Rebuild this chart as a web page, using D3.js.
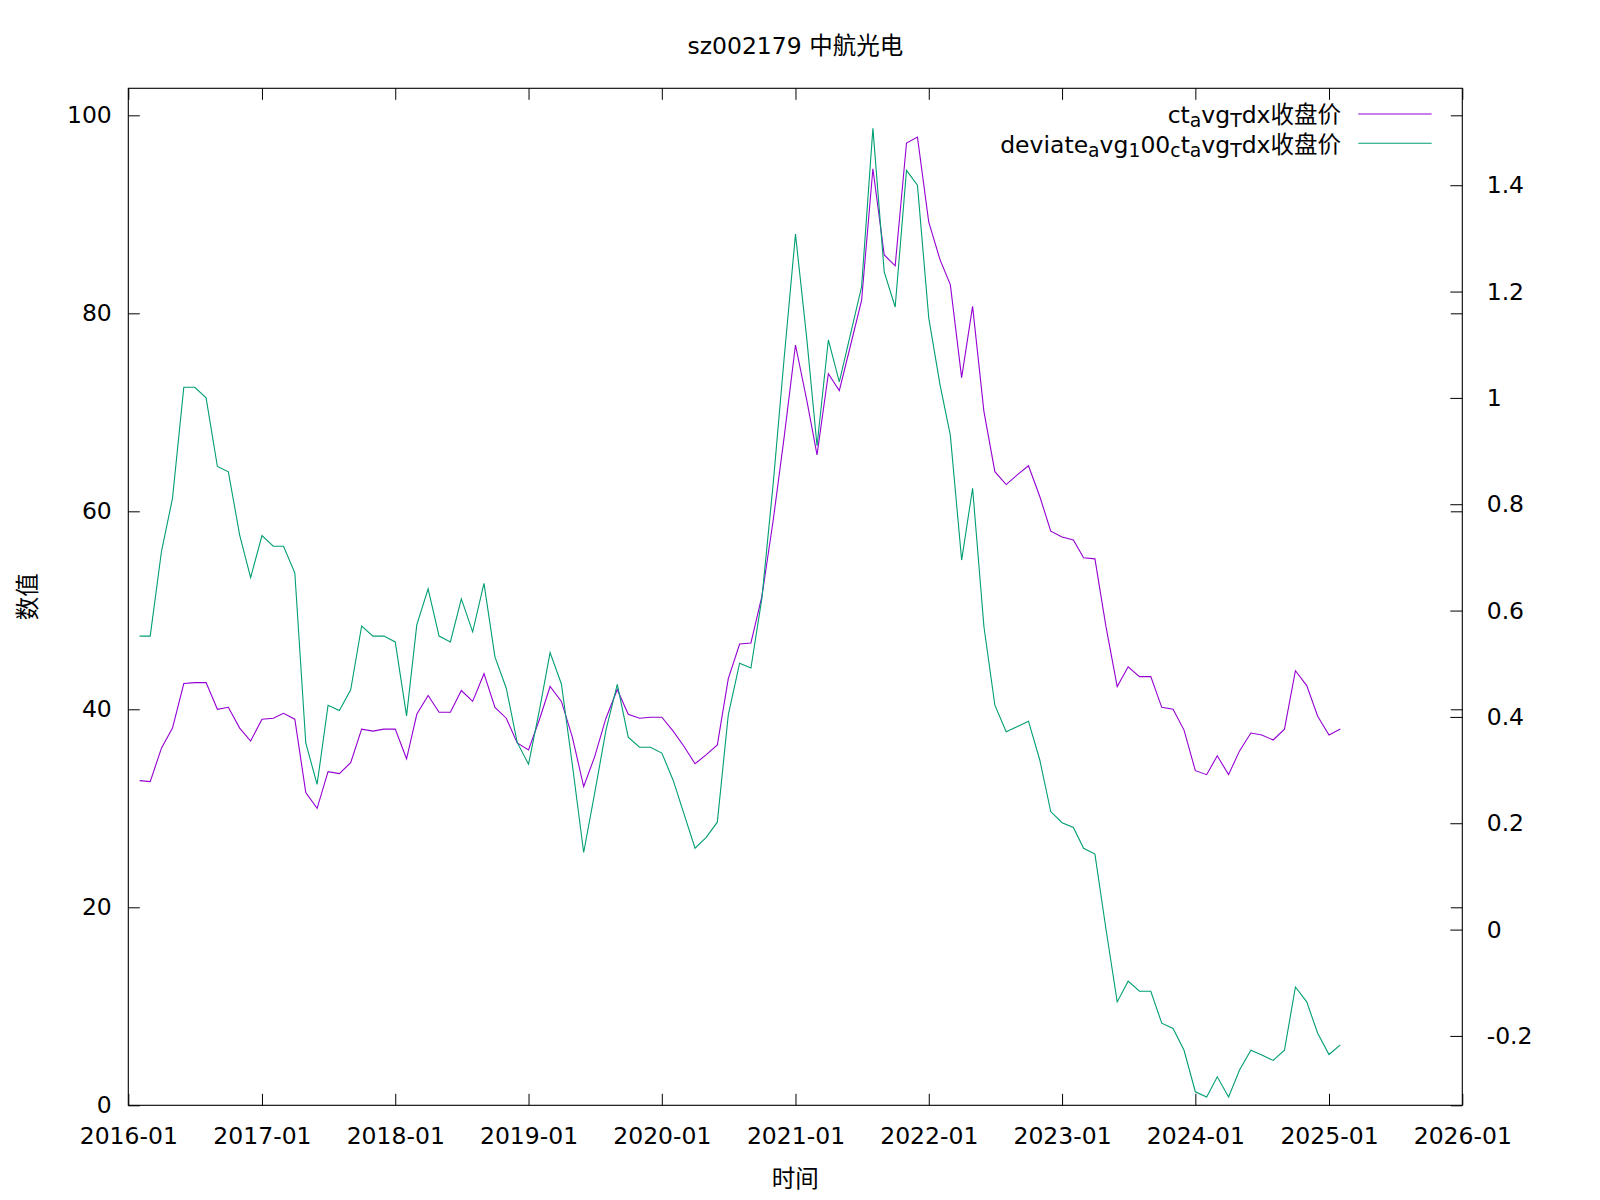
<!DOCTYPE html>
<html>
<head>
<meta charset="utf-8">
<script src="https://cdn.jsdelivr.net/npm/d3@7"></script>
<style>
  body { margin: 0; background: #fff; }
  text { font-family: "DejaVu Sans", "Noto Sans CJK SC", sans-serif; fill: #000; }
</style>
</head>
<body>
<svg id="chart" width="1600" height="1200"></svg>
<script>
// monthly closes, Feb 2016 .. Feb 2025 (left axis)
var closePrice = [
  32.8, 32.7, 36.1, 38.1, 42.6, 42.7, 42.7, 40.0, 40.2, 38.1, 36.8,
  39.0, 39.1, 39.6, 39.0, 31.6, 30.0, 33.7, 33.5, 34.6, 38.0, 37.8, 38.0,
  38.0, 35.0, 39.5, 41.4, 39.7, 39.7, 41.9, 40.8, 43.6, 40.2, 39.1, 36.6,
  35.9, 39.1, 42.3, 40.8, 37.2, 32.2, 35.2, 39.1, 42.0, 39.5, 39.1, 39.2,
  39.2, 37.8, 36.3, 34.5, 35.4, 36.4, 43.1, 46.6, 46.7, 51.4, 59.1, 67.5,
  76.8, 71.2, 65.7, 73.9, 72.2, 76.8, 81.3, 94.6, 85.9, 84.8, 97.2, 97.8,
  89.2, 85.4, 82.9, 73.5, 80.7, 70.1, 64.0, 62.7, 63.7, 64.6, 61.5, 58.0,
  57.4, 57.1, 55.3, 55.2, 48.4, 42.3, 44.3, 43.3, 43.3, 40.2, 40.0, 37.9,
  33.8, 33.4, 35.3, 33.4, 35.8, 37.6, 37.4, 36.9, 38.0, 43.9, 42.4, 39.3,
  37.4, 38.0
];

// deviation from the 100 avg (right axis)
var deviation = [
  0.552, 0.552, 0.712, 0.811, 1.020, 1.020, 1.000, 0.871, 0.861, 0.742, 0.662,
  0.741, 0.721, 0.721, 0.671, 0.351, 0.273, 0.422, 0.412, 0.451, 0.571, 0.552, 0.552,
  0.541, 0.402, 0.573, 0.641, 0.552, 0.541, 0.622, 0.560, 0.651, 0.513, 0.454, 0.352,
  0.311, 0.417, 0.521, 0.462, 0.310, 0.145, 0.256, 0.375, 0.461, 0.362, 0.343, 0.343,
  0.332, 0.281, 0.219, 0.153, 0.173, 0.202, 0.404, 0.501, 0.492, 0.623, 0.839, 1.075,
  1.308, 1.111, 0.910, 1.109, 1.030, 1.121, 1.209, 1.507, 1.237, 1.171, 1.428, 1.400,
  1.150, 1.024, 0.930, 0.695, 0.830, 0.570, 0.422, 0.372, 0.382, 0.392, 0.319, 0.222,
  0.201, 0.192, 0.153, 0.142, 0.002, -0.136, -0.097, -0.116, -0.116, -0.176, -0.186, -0.227,
  -0.305, -0.315, -0.277, -0.315, -0.264, -0.227, -0.236, -0.246, -0.227, -0.108, -0.136, -0.195,
  -0.235, -0.217
];

var months = d3.utcMonth.range(new Date(Date.UTC(2016, 1, 1)), new Date(Date.UTC(2025, 2, 1)));
var xTicks = d3.utcYear.range(new Date(Date.UTC(2016, 0, 1)), new Date(Date.UTC(2026, 0, 2)));
var yTicks = [0, 20, 40, 60, 80, 100];
var y2Ticks = [-0.2, 0, 0.2, 0.4, 0.6, 0.8, 1, 1.2, 1.4];

var seriesNames = ["ct_avg_Tdx收盘价", "deviate_avg_100_ct_avg_Tdx收盘价"];
var seriesColors = ["#9400d3", "#009e73"];

var titleText = "sz002179 中航光电";
var xLabel = "时间";
var yLabel = "数值";

var FS = 23.5;
var box = {left: 128.3, right: 1462.3, top: 88.3, bottom: 1105.3};

var svg = d3.select("#chart");
svg.append("rect").attr("width", 1600).attr("height", 1200).attr("fill", "#fff");

var x = d3.scaleUtc()
  .domain([new Date(Date.UTC(2016, 0, 1)), new Date(Date.UTC(2026, 0, 1))])
  .range([box.left, box.right]);

var y = d3.scaleLinear().domain([0, 102.73]).range([box.bottom, box.top]);
var y2 = d3.scaleLinear().domain([-0.3305, 1.5823]).range([box.bottom, box.top]);

function styleAxis(g) {
  g.attr("font-size", FS).attr("font-family", null);
  g.select(".domain").remove();
  g.selectAll(".tick line").attr("stroke", "#000").attr("stroke-width", 1);
}

//bottom + top time axis
svg.append("g")
  .attr("transform", "translate(0," + box.bottom + ")")
  .call(d3.axisBottom(x).tickValues(xTicks).tickFormat(d3.utcFormat("%Y-%m"))
    .tickSizeInner(-11.5).tickSizeOuter(0).tickPadding(22))
  .call(styleAxis);

svg.append("g")
  .attr("transform", "translate(0," + box.top + ")")
  .call(d3.axisTop(x).tickValues(xTicks).tickFormat("")
    .tickSizeInner(-11.5).tickSizeOuter(0))
  .call(styleAxis);

//left axis and its mirror on the right
svg.append("g")
  .attr("transform", "translate(" + box.left + ",0)")
  .call(d3.axisLeft(y).tickValues(yTicks).tickFormat(d3.format("d"))
    .tickSizeInner(-11.5).tickSizeOuter(0).tickPadding(16.5))
  .call(styleAxis);

svg.append("g")
  .attr("transform", "translate(" + box.right + ",0)")
  .call(d3.axisRight(y).tickValues(yTicks).tickFormat("")
    .tickSizeInner(-11.5).tickSizeOuter(0))
  .call(styleAxis);

//y2 axis, gnuplot style labels (plain minus, "1" not "1.0")
svg.append("g")
  .attr("transform", "translate(" + box.right + ",0)")
  .call(d3.axisRight(y2).tickValues(y2Ticks)
    .tickFormat(function(d) { return String(Math.round(d * 10) / 10); })
    .tickSizeInner(-12).tickSizeOuter(0).tickPadding(24.4))
  .call(styleAxis);

svg.append("rect")
  .attr("x", box.left).attr("y", box.top)
  .attr("width", box.right - box.left).attr("height", box.bottom - box.top)
  .attr("fill", "none").attr("stroke", "#000").attr("stroke-width", 1.1);

var lineLeft = d3.line()
  .x(function(d, i) { return x(months[i]); })
  .y(function(d) { return y(d); });

var lineRight = d3.line()
  .x(function(d, i) { return x(months[i]); })
  .y(function(d) { return y2(d); });

svg.append("path").datum(closePrice)
  .attr("d", lineLeft)
  .attr("fill", "none").attr("stroke", seriesColors[0]).attr("stroke-width", 1.1);

svg.append("path").datum(deviation)
  .attr("d", lineRight)
  .attr("fill", "none").attr("stroke", seriesColors[1]).attr("stroke-width", 1.1);

//gnuplot enhanced text: "_x" makes x a subscript
function enhancedParts(str) {
  var parts = [], buf = "";
  for (var i = 0; i < str.length; i++) {
    if (str[i] === "_" && i + 1 < str.length) {
      if (buf) parts.push({t: buf, sub: false});
      buf = "";
      parts.push({t: str[i + 1], sub: true});
      i++;
    } else {
      buf += str[i];
    }
  }
  if (buf) parts.push({t: buf, sub: false});
  return parts;
}

var legend = svg.append("g").attr("font-size", FS);
seriesNames.forEach(function(name, k) {
  var cy = 114 + k * 29.3;
  legend.append("line")
    .attr("x1", 1358.3).attr("x2", 1431.7)
    .attr("y1", cy).attr("y2", cy)
    .attr("stroke", seriesColors[k]).attr("stroke-width", 1.1);

  var txt = legend.append("text")
    .attr("x", 1341).attr("y", cy + 9.3)
    .attr("text-anchor", "end");
  var prevSub = false;
  enhancedParts(name).forEach(function(p) {
    var ts = txt.append("tspan").text(p.t);
    if (p.sub) {
      ts.attr("font-size", 18.8);
      if (!prevSub) ts.attr("dy", 4);
    } else if (prevSub) {
      ts.attr("dy", -4);
    }
    prevSub = p.sub;
  });
});

svg.append("text")
  .attr("x", (box.left + box.right) / 2).attr("y", 53.6)
  .attr("text-anchor", "middle").attr("font-size", FS)
  .text(titleText);

svg.append("text")
  .attr("x", (box.left + box.right) / 2).attr("y", 1178.6)
  .attr("text-anchor", "middle").attr("dominant-baseline", "central")
  .attr("font-size", FS)
  .text(xLabel);

svg.append("text")
  .attr("transform", "translate(27.5," + ((box.top + box.bottom) / 2) + ") rotate(-90)")
  .attr("text-anchor", "middle").attr("dominant-baseline", "central")
  .attr("font-size", FS)
  .text(yLabel);
</script>
</body>
</html>
